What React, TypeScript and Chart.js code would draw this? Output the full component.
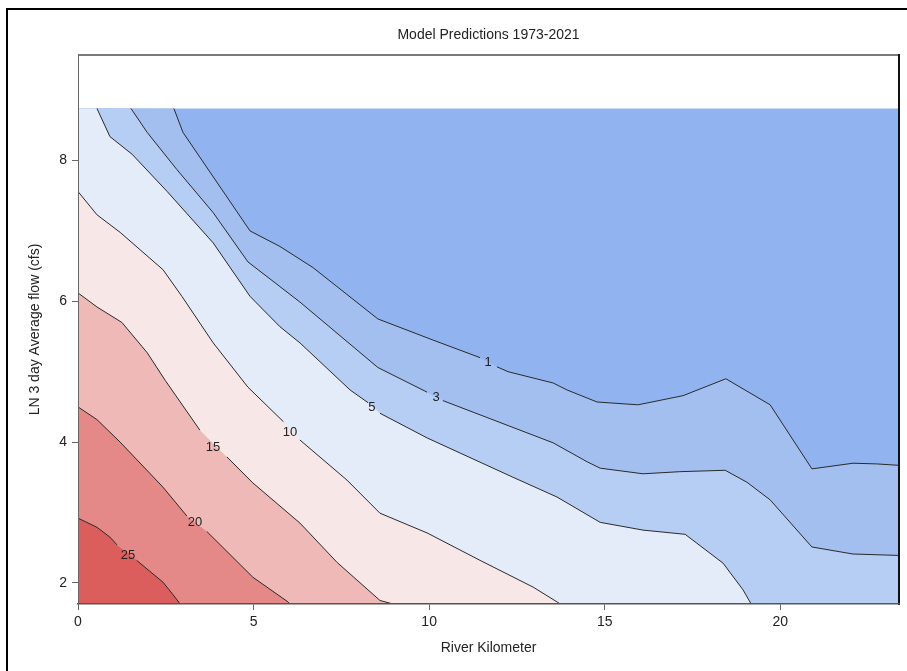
import React, { useEffect, useRef } from 'react';
import { Chart, registerables } from 'chart.js';

Chart.register(...registerables);

const TITLE = 'Model Predictions 1973-2021';
const X_TITLE = 'River Kilometer';
const Y_TITLE = 'LN 3 day Average flow (cfs)';

const xTicks = [0, 5, 10, 15, 20];
const yTicks = [2, 4, 6, 8];
const xMin = 0;
const xMax = 23.38;
const yMin = 1.7;
const yMax = 9.5;
const dataTop = 8.74;

type Pt = [number, number] | null;

// contour levels (null marks the break where the level label sits)
const levels = [1, 3, 5, 10, 15, 20, 25];

const contour1: Pt[] = [
  [2.73, 8.74], [2.99, 8.40], [4.90, 7.00], [5.75, 6.78], [6.69, 6.48], [8.54, 5.75],
  [10.11, 5.45], [11.45, 5.20], null, [11.93, 5.07], [12.25, 5.00], [13.53, 4.84],
  [13.93, 4.74], [14.78, 4.57], [15.95, 4.53], [17.23, 4.66], [18.45, 4.90], [19.71, 4.53],
  [20.90, 3.62], [22.07, 3.70], [22.75, 3.69], [23.38, 3.67],
];
const contour3: Pt[] = [
  [1.51, 8.74], [1.97, 8.40], [2.82, 7.87], [3.85, 7.26], [4.84, 6.56], [5.75, 6.21],
  [6.32, 5.99], [8.54, 5.06], [9.74, 4.76], [9.94, 4.71], null, [10.39, 4.59],
  [13.53, 3.99], [14.50, 3.72], [14.87, 3.63], [16.09, 3.55], [17.14, 3.58], [18.43, 3.60],
  [19.05, 3.43], [19.71, 3.18], [20.90, 2.51], [22.07, 2.41], [23.38, 2.39],
];
const contour5: Pt[] = [
  [0.54, 8.74], [0.91, 8.34], [1.54, 8.09], [2.54, 7.56], [3.85, 6.83], [4.90, 6.07],
  [5.75, 5.64], [6.32, 5.41], [7.75, 4.74], [8.26, 4.56], null, [8.60, 4.41], [9.94, 4.06],
  [12.39, 3.50], [13.64, 3.22], [14.87, 2.86], [16.09, 2.75], [17.29, 2.69], [18.37, 2.28],
  [18.94, 1.90], [19.17, 1.70],
];
const contour10: Pt[] = [
  [0, 7.56], [0.54, 7.23], [1.20, 6.98], [2.42, 6.45], [2.96, 6.07], [3.85, 5.41],
  [4.84, 4.78], [5.85, 4.29], null, [6.32, 4.03], [7.66, 3.46], [8.60, 2.99], [9.94, 2.71],
  [11.45, 2.32], [12.96, 1.94], [13.64, 1.73], [13.73, 1.70],
];
const contour15: Pt[] = [
  [0, 6.12], [0.54, 5.92], [1.25, 5.70], [1.97, 5.27], [2.48, 4.88], [3.47, 4.17], null,
  [4.24, 3.79], [4.98, 3.42], [6.32, 2.85], [7.38, 2.29], [8.60, 1.75], [8.97, 1.70],
];
const contour20: Pt[] = [
  [0, 4.50], [0.54, 4.32], [1.20, 4.00], [2.42, 3.36], [3.10, 2.95], null,
  [3.67, 2.73], [4.98, 2.08], [5.98, 1.73], [6.04, 1.70],
];
const contour25: Pt[] = [
  [0, 2.92], [0.54, 2.79], [0.91, 2.65], [1.11, 2.54], null,
  [1.67, 2.32], [2.42, 2.01], [2.71, 1.83], [2.91, 1.70],
];

const contours = [contour1, contour3, contour5, contour10, contour15, contour20, contour25];

// label positions per level
const labelX = [11.68, 10.195, 8.372, 6.037, 3.845, 3.332, 1.424];
const labelY = [5.126, 4.642, 4.486, 4.144, 3.931, 2.863, 2.394];

// colours: below lowest level, then above each level
const lowColor = '#91b3ef';
const bandColors = ['#a3bff0', '#b6cdf4', '#e4ebf9', '#f8e7e7', '#efb9b8', '#e48987', '#dc5e5c'];

const FONT = '"Liberation Sans", Arial, sans-serif';

function toFillPoints(line: Pt[]) {
  const pts = line.filter((p): p is [number, number] => p !== null).map(([x, y]) => ({ x, y }));
  if (pts[0].x > xMin) pts.unshift({ x: xMin, y: pts[0].y });
  return pts;
}

function toLinePoints(line: Pt[]) {
  return line.map((p, i) => {
    if (p === null) {
      const a = line[i - 1] as [number, number];
      const b = line[i + 1] as [number, number];
      return { x: (a[0] + b[0]) / 2, y: null as any };
    }
    return { x: p[0], y: p[1] };
  });
}

const overlayPlugin = {
  id: 'overlay',
  afterDatasetsDraw(chart: any) {
    const { ctx, chartArea: a, scales } = chart;
    const xs = scales.x;
    const ys = scales.y;
    ctx.save();
    ctx.font = `13px ${FONT}`;
    ctx.fillStyle = '#222';
    ctx.textAlign = 'center';
    ctx.textBaseline = 'middle';
    levels.forEach((lv, i) => {
      ctx.fillText(String(lv), xs.getPixelForValue(labelX[i]), ys.getPixelForValue(labelY[i]));
    });
    ctx.lineWidth = 2;
    ctx.strokeStyle = '#7a7a7a';
    ctx.beginPath();
    ctx.moveTo(a.left, a.top);
    ctx.lineTo(a.right, a.top);
    ctx.stroke();
    ctx.strokeStyle = '#111';
    ctx.beginPath();
    ctx.moveTo(a.right, a.top - 1);
    ctx.lineTo(a.right, a.bottom + 1);
    ctx.stroke();
    ctx.restore();
  },
  afterDraw(chart: any) {
    const { ctx, chartArea: a } = chart;
    ctx.save();
    ctx.font = `14px ${FONT}`;
    ctx.fillStyle = '#222';
    ctx.textAlign = 'center';
    ctx.textBaseline = 'middle';
    ctx.fillText(TITLE, (a.left + a.right) / 2, 35);
    ctx.restore();
  },
};

export default function App() {
  const ref = useRef<HTMLCanvasElement>(null);
  useEffect(() => {
    const datasets: any[] = [];
    datasets.push({
      data: [{ x: xMin, y: dataTop }, { x: xMax, y: dataTop }],
      fill: 'start',
      backgroundColor: lowColor,
      borderWidth: 0,
      borderColor: 'transparent',
      pointRadius: 0,
      order: levels.length + 1,
    });
    contours.forEach((c, i) => {
      datasets.push({
        data: toFillPoints(c),
        fill: 'start',
        backgroundColor: bandColors[i],
        borderWidth: 0,
        borderColor: 'transparent',
        pointRadius: 0,
        order: levels.length - i,
      });
    });
    contours.forEach((c) => {
      datasets.push({
        data: toLinePoints(c),
        fill: false,
        borderColor: '#2a2a2a',
        borderWidth: 1,
        pointRadius: 0,
        spanGaps: false,
        order: 0,
      });
    });

    const chart = new Chart(ref.current as HTMLCanvasElement, {
      type: 'line',
      data: { datasets },
      options: {
        responsive: false,
        animation: false,
        devicePixelRatio: 1,
        layout: { padding: { top: 55, left: 0, right: 8, bottom: 0 } },
        plugins: {
          legend: { display: false },
          tooltip: { enabled: false },
          title: { display: false },
        },
        scales: {
          x: {
            type: 'linear',
            min: xMin,
            max: xMax,
            afterBuildTicks: (s: any) => {
              s.ticks = xTicks.map((value) => ({ value }));
            },
            afterFit: (s: any) => {
              s.height = 67;
            },
            grid: { drawOnChartArea: false, drawTicks: true, tickLength: 6, color: '#666', tickColor: '#666' },
            border: { display: true, color: '#555', width: 1.5, z: 2 },
            ticks: { color: '#222', font: { size: 14, family: FONT }, padding: 4, maxRotation: 0 },
            title: {
              display: true,
              text: X_TITLE,
              color: '#222',
              font: { size: 14, family: FONT },
              padding: { top: 0, bottom: 14.6 },
            },
          },
          y: {
            type: 'linear',
            min: yMin,
            max: yMax,
            afterBuildTicks: (s: any) => {
              s.ticks = yTicks.map((value) => ({ value }));
            },
            afterFit: (s: any) => {
              s.width = 78;
            },
            grid: { drawOnChartArea: false, drawTicks: true, tickLength: 6, color: '#666', tickColor: '#666' },
            border: { display: true, color: '#666', width: 1, z: 2 },
            ticks: { color: '#222', font: { size: 14, family: FONT }, padding: 5 },
            title: {
              display: true,
              text: Y_TITLE,
              color: '#222',
              font: { size: 14, family: FONT },
              padding: { top: 26.6, bottom: 0 },
            },
          },
        },
      },
      plugins: [overlayPlugin],
    } as any);
    return () => chart.destroy();
  }, []);

  return (
    <div
      style={{
        position: 'fixed',
        left: 0,
        top: 0,
        width: 907,
        height: 671,
        overflow: 'hidden',
        background: '#fff',
      }}
    >
      <div
        style={{
          position: 'absolute',
          left: 6,
          top: 8,
          width: 1200,
          height: 1200,
          border: '2px solid #000',
          boxSizing: 'border-box',
        }}
      />
      <canvas
        ref={ref}
        width={907}
        height={671}
        style={{ position: 'absolute', left: 0, top: 0, width: 907, height: 671, display: 'block' }}
      />
    </div>
  );
}
